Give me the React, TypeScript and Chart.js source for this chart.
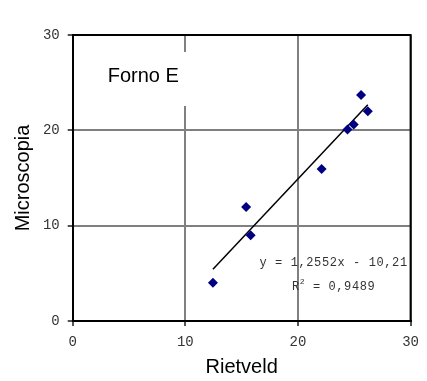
import React, { useEffect, useRef } from "react";
import { Chart, registerables } from "chart.js";

Chart.register(...registerables);

const rietveld = [12.45, 15.4, 15.8, 22.1, 24.4, 24.95, 25.6, 26.2];
const microscopia = [4.0, 11.95, 9.0, 15.95, 20.1, 20.6, 23.7, 22.0];
const trendX = [12.45, 26.2];
const slope = 1.2552;
const intercept = -10.21;
const tickValues = [0, 10, 20, 30];
const titleText = "Forno E";
const eqText = "y = 1,2552x - 10,21";
const r2Value = "0,9489";

const overlay = {
  id: "overlay",
  beforeDatasetsDraw(chart: any) {
    const { ctx, chartArea: a } = chart;
    ctx.save();
    ctx.fillStyle = "#ffffff";
    ctx.fillRect(a.left + 22, a.top + 17, 100, 54);
    ctx.fillStyle = "#000000";
    ctx.font = "20px 'Liberation Sans', Arial, sans-serif";
    ctx.textAlign = "left";
    ctx.textBaseline = "alphabetic";
    ctx.fillText(titleText, a.left + 35, a.top + 47);
    ctx.restore();
  },
  afterDatasetsDraw(chart: any) {
    const { ctx, chartArea: a } = chart;
    ctx.save();
    ctx.strokeStyle = "#000000";
    ctx.lineWidth = 2;
    ctx.beginPath();
    ctx.moveTo(a.left, a.top);
    ctx.lineTo(a.right, a.top);
    ctx.lineTo(a.right, a.bottom);
    ctx.stroke();
    ctx.fillStyle = "#333333";
    ctx.font = "12px 'Liberation Mono', 'Courier New', monospace";
    (ctx as any).letterSpacing = "0.6px";
    ctx.textBaseline = "middle";
    ctx.textAlign = "center";
    const cx = a.right - 77;
    ctx.fillText(eqText, cx, a.bottom - 58);
    ctx.textAlign = "left";
    const rest = " = " + r2Value;
    const wR = ctx.measureText("R").width;
    ctx.font = "8px 'Liberation Mono', 'Courier New', monospace";
    const w2 = ctx.measureText("2").width;
    ctx.font = "12px 'Liberation Mono', 'Courier New', monospace";
    const wRest = ctx.measureText(rest).width;
    const total = wR + w2 + wRest;
    let x = cx - total / 2;
    const y = a.bottom - 34;
    ctx.fillText("R", x, y);
    x += wR;
    ctx.font = "8px 'Liberation Mono', 'Courier New', monospace";
    ctx.fillText("2", x, y - 5);
    x += w2;
    ctx.font = "12px 'Liberation Mono', 'Courier New', monospace";
    ctx.fillText(rest, x, y);
    ctx.restore();
  },
};

export default function App() {
  const ref = useRef<HTMLCanvasElement | null>(null);
  useEffect(() => {
    if (!ref.current) return;
    const chart = new Chart(ref.current, {
      type: "scatter",
      data: {
        datasets: [
          {
            label: "Microscopia",
            data: rietveld.map((x, i) => ({ x, y: microscopia[i] })),
            pointStyle: "rectRot",
            pointRadius: 5,
            backgroundColor: "#000080",
            borderColor: "#000080",
            borderWidth: 0,
            showLine: false,
          },
          {
            label: "Trend",
            data: trendX.map((x) => ({ x, y: slope * x + intercept })),
            showLine: true,
            borderColor: "#000000",
            borderWidth: 1.5,
            pointRadius: 0,
            fill: false,
          },
        ] as any,
      },
      options: {
        animation: false,
        responsive: false,
        devicePixelRatio: 1,
        layout: { padding: { top: 35, right: 13, left: 0, bottom: 0 } },
        plugins: { legend: { display: false }, tooltip: { enabled: false } },
        scales: {
          x: {
            type: "linear",
            min: 0,
            max: 30,
            afterBuildTicks: (s: any) => {
              s.ticks = tickValues.map((v) => ({ value: v }));
            },
            afterFit: (s: any) => {
              s.height = 60;
            },
            ticks: {
              color: "#333",
              font: { family: "'Liberation Mono', monospace", size: 14 },
              padding: 8,
              maxRotation: 0,
            },
            grid: { color: "#808080", lineWidth: 2, tickLength: 5, tickColor: "#555" },
            border: { display: true, color: "#000", width: 2 },
            title: {
              display: true,
              text: "Rietveld",
              color: "#000",
              font: { family: "'Liberation Sans', Arial, sans-serif", size: 20 },
              padding: { top: 0, bottom: 2 },
            },
          },
          y: {
            type: "linear",
            min: 0,
            max: 30,
            afterBuildTicks: (s: any) => {
              s.ticks = tickValues.map((v) => ({ value: v }));
            },
            afterFit: (s: any) => {
              s.width = 72.7;
            },
            ticks: {
              color: "#333",
              font: { family: "'Liberation Mono', monospace", size: 14 },
              padding: 8,
            },
            grid: { color: "#808080", lineWidth: 2, tickLength: 5, tickColor: "#555" },
            border: { display: true, color: "#000", width: 2 },
            title: {
              display: true,
              text: "Microscopia",
              color: "#000",
              font: { family: "'Liberation Sans', Arial, sans-serif", size: 20 },
              padding: { top: 11, bottom: 0 },
            },
          },
        },
      },
      plugins: [overlay],
    });
    return () => chart.destroy();
  }, []);
  return (
    <div style={{ position: "absolute", left: 0, top: 0, width: 427, height: 381, background: "#fff" }}>
      <canvas ref={ref} width={427} height={381} />
    </div>
  );
}
